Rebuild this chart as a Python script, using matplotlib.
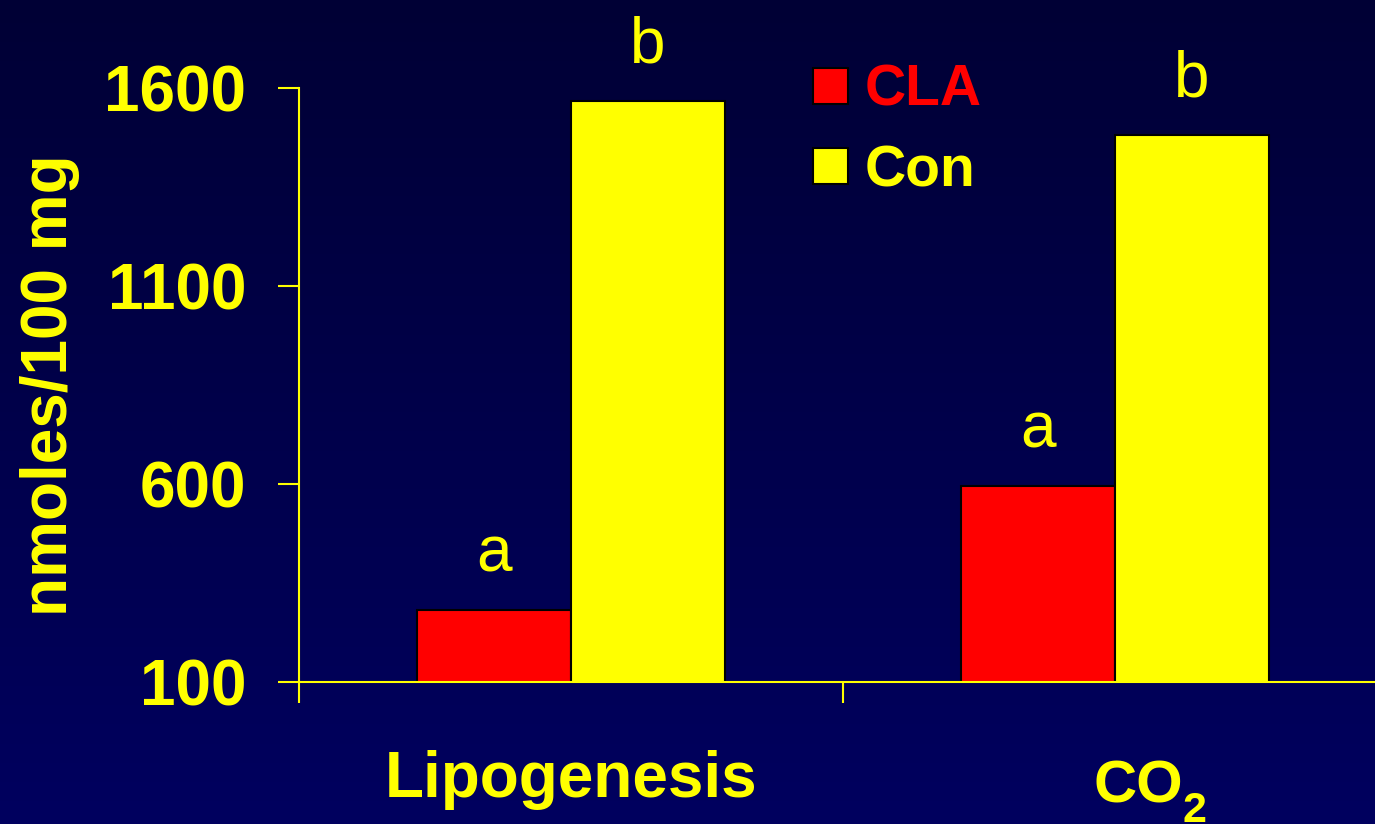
import matplotlib
matplotlib.use("Agg")
import matplotlib.pyplot as plt
import numpy as np
from matplotlib.colors import LinearSegmentedColormap

plt.rcParams['font.family'] = ['Liberation Sans', 'DejaVu Sans']

# Data
categories = ['Lipogenesis', 'CO']
category_subscripts = ['', '2']
series_names = ['CLA', 'Con']
cla_values = [282, 595]
con_values = [1567, 1481]
cla_letters = ['a', 'a']
con_letters = ['b', 'b']
y_ticks = [100, 600, 1100, 1600]

YELLOW = '#ffff00'
RED = '#ff0000'

fig = plt.figure(figsize=(13.75, 8.24), dpi=100)

# Vertical navy gradient background
bg = fig.add_axes([0, 0, 1, 1], zorder=-10)
grad = np.linspace(0, 1, 256).reshape(-1, 1)
cmap = LinearSegmentedColormap.from_list('navy', ['#000035', '#00005f'])
bg.imshow(grad, aspect='auto', cmap=cmap, extent=[0, 1, 0, 1], origin='upper')
bg.set_axis_off()

W, H = 1375, 824
ax_left, ax_right = 299, 1387
ax_top, ax_bottom = 88, 682
ax = fig.add_axes([ax_left / W, (H - ax_bottom) / H,
                   (ax_right - ax_left) / W, (ax_bottom - ax_top) / H])
ax.set_facecolor('none')

centers = np.arange(len(categories)) + 0.5
bw = 0.283
bars_cla = ax.bar(centers - bw / 2, cla_values, width=bw, color=RED,
                  edgecolor='black', linewidth=1.5, label=series_names[0], zorder=2)
bars_con = ax.bar(centers + bw / 2, con_values, width=bw, color=YELLOW,
                  edgecolor='black', linewidth=1.5, label=series_names[1], zorder=2)

ax.set_xlim(0, len(categories))
ax.set_ylim(100, 1600)

# Significance letters above the bars
for bars, letters in ((bars_cla, cla_letters), (bars_con, con_letters)):
    for rect, letter in zip(bars, letters):
        ax.annotate(letter, (rect.get_x() + rect.get_width() / 2, rect.get_height()),
                    xytext=(0, 28), textcoords='offset points', ha='center',
                    va='baseline', fontsize=46, color=YELLOW, annotation_clip=False)

# Axes styling
for side in ('top', 'right'):
    ax.spines[side].set_visible(False)
for side in ('left', 'bottom'):
    ax.spines[side].set_color(YELLOW)
    ax.spines[side].set_linewidth(1.5)
    ax.spines[side].set_zorder(3)

ax.set_yticks(y_ticks)
ax.set_yticklabels([str(t) for t in y_ticks], fontsize=46, fontweight='bold', color=YELLOW)
ax.tick_params(axis='y', direction='out', length=15, width=1.5, color=YELLOW, pad=23)
ax.set_xticks(np.arange(len(categories) + 1))
ax.set_xticklabels([])
ax.tick_params(axis='x', direction='out', length=15, width=1.5, color=YELLOW)

# Category labels (with optional chemical subscript)
label_y = [-0.1936, -0.2037]
label_dx = [0.0, 0.042]
label_size = [46, 43]
for c, name, sub, yy, dx, fs in zip(centers, categories, category_subscripts,
                                    label_y, label_dx, label_size):
    t = ax.text(c + dx, yy, name, transform=ax.get_xaxis_transform(), ha='center',
                va='baseline', fontsize=fs, fontweight='bold', color=YELLOW, clip_on=False)
    if sub:
        ax.annotate(sub, xy=(1, 0), xycoords=t, xytext=(0, 17), textcoords='offset points',
                    ha='left', va='top', fontsize=31, fontweight='bold', color=YELLOW,
                    annotation_clip=False)

ax.set_ylabel('nmoles/100 mg', fontsize=46, fontweight='bold', color=YELLOW, va='center')
ax.yaxis.set_label_coords((50 - ax_left) / (ax_right - ax_left), 0.5)

leg = ax.legend(handles=[bars_cla, bars_con], loc='upper left',
                bbox_to_anchor=(813 / W, 1 - 64 / H), bbox_transform=fig.transFigure,
                frameon=False, prop={'weight': 'bold', 'size': 41},
                labelcolor=[RED, YELLOW], handlelength=0.61, handleheight=0.61,
                handletextpad=0.3, labelspacing=0.46, borderpad=0, borderaxespad=0)
for h in leg.legend_handles:
    h.set_linewidth(1.5)

fig.savefig('out.png', dpi=100)
